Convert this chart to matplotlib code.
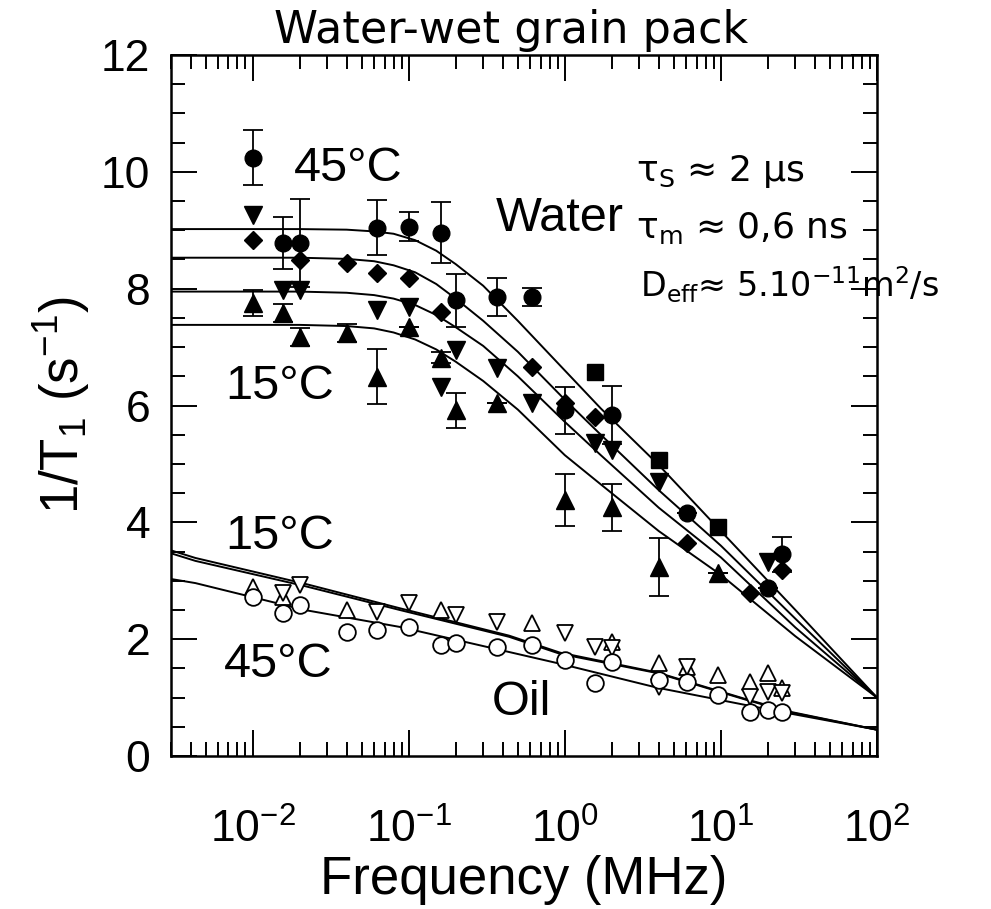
import matplotlib
matplotlib.use('Agg')
import matplotlib.pyplot as plt
import numpy as np

plt.rcParams['font.family'] = ['Liberation Sans', 'DejaVu Sans']
plt.rcParams['mathtext.default'] = 'regular'
plt.rcParams['axes.unicode_minus'] = False

# --- water, filled symbols (frequency in MHz, 1/T1 in s^-1) ---
w45_f = [0.01, 0.0156, 0.02, 0.0625, 0.1, 0.16, 0.2, 0.37, 0.62, 1.0, 2.0, 6.1, 20, 24.5]
w45_v = [10.24, 8.78, 8.78, 9.04, 9.06, 8.96, 7.8, 7.86, 7.86, 5.92, 5.84, 4.16, 2.88, 3.45]
w45_e = [0.47, 0.45, 0.75, 0.47, 0.25, 0.52, 0.45, 0.33, 0.15, 0.4, 0.5, 0.0, 0.0, 0.3]

sq_f = [1.56, 4.0, 9.6]
sq_v = [6.58, 5.07, 3.92]

w35_f = [0.01, 0.02, 0.04, 0.0625, 0.1, 0.16, 0.62, 1.0, 1.56, 6.1, 15.3, 24.5]
w35_v = [8.84, 8.49, 8.44, 8.27, 8.19, 7.6, 6.66, 6.04, 5.8, 3.65, 2.79, 3.18]

w25_f = [0.01, 0.0156, 0.02, 0.0625, 0.1, 0.16, 0.2, 0.37, 0.62, 1.56, 2.0, 4.0, 20]
w25_v = [9.26, 7.98, 7.98, 7.64, 7.69, 6.32, 6.95, 6.64, 6.04, 5.36, 5.24, 4.69, 3.32]

w15_f = [0.01, 0.0156, 0.02, 0.04, 0.0625, 0.1, 0.16, 0.2, 0.37, 1.0, 2.0, 4.0, 9.6]
w15_v = [7.76, 7.58, 7.17, 7.24, 6.49, 7.35, 6.82, 5.92, 6.04, 4.38, 4.26, 3.24, 3.13]
w15_e = [0.22, 0.15, 0.15, 0.15, 0.47, 0.0, 0.1, 0.3, 0.0, 0.45, 0.4, 0.5, 0.0]

# fitted curves for water
fit_f = [0.003, 0.02, 0.04, 0.06, 0.08, 0.11, 0.15, 0.2, 0.3, 0.5, 1.0, 1.7, 4.0, 10, 30, 100]
fit45 = [9.02, 9.02, 9.01, 8.98, 8.94, 8.83, 8.65, 8.42, 8.05, 7.45, 6.6, 5.95, 4.98, 3.85, 2.5, 1.0]
fit35 = [8.53, 8.53, 8.51, 8.47, 8.4, 8.28, 8.08, 7.83, 7.45, 6.92, 6.1, 5.5, 4.55, 3.6, 2.35, 1.0]
fit25 = [7.95, 7.95, 7.93, 7.89, 7.83, 7.72, 7.55, 7.34, 7.02, 6.5, 5.72, 5.15, 4.25, 3.4, 2.2, 1.0]
fit15 = [7.38, 7.38, 7.36, 7.32, 7.25, 7.13, 6.96, 6.75, 6.42, 5.93, 5.15, 4.65, 3.85, 3.1, 2.05, 1.0]

# --- oil, open symbols ---
o45_f = [0.01, 0.0156, 0.02, 0.04, 0.0625, 0.1, 0.16, 0.2, 0.37, 0.62, 1.0, 1.56, 2.0, 4.0, 6.1, 9.6, 15.3, 20, 24.5]
o45_v = [2.72, 2.45, 2.59, 2.12, 2.16, 2.21, 1.9, 1.93, 1.87, 1.9, 1.64, 1.25, 1.61, 1.3, 1.27, 1.04, 0.75, 0.79, 0.75]

o15u_f = [0.01, 0.0156, 0.04, 0.16, 0.62, 2.0, 4.0, 6.1, 9.6, 15.3, 20, 24.5]
o15u_v = [2.89, 2.72, 2.5, 2.5, 2.28, 1.95, 1.59, 1.52, 1.39, 1.27, 1.42, 1.16]

o15d_f = [0.0156, 0.02, 0.0625, 0.1, 0.2, 0.37, 1.0, 1.56, 2.0, 4.0, 6.1, 15.3, 20, 24.5]
o15d_v = [2.79, 2.93, 2.47, 2.62, 2.41, 2.29, 2.1, 1.87, 1.85, 1.18, 1.52, 1.01, 1.1, 1.08]

ofit_f = [0.003, 0.0043, 0.0215, 0.0875, 0.44, 0.93, 3.9, 14.6, 28.6, 100]
ofit15a = [3.52, 3.39, 2.95, 2.53, 2.06, 1.77, 1.43, 0.97, 0.75, 0.45]
ofit15b = [3.47, 3.34, 2.91, 2.50, 2.04, 1.75, 1.42, 0.96, 0.74, 0.45]
ofit45 = [3.03, 2.96, 2.5, 2.21, 1.78, 1.58, 1.17, 0.87, 0.72, 0.45]

fig = plt.figure(figsize=(9.91, 9.09), dpi=100)
ax = fig.add_axes([171/991, 1 - 756/909, 706/991, 701/909])

for v in (fit45, fit35, fit25, fit15):
    ax.plot(fit_f, v, color='black', lw=1.4)
for v in (ofit15a, ofit15b, ofit45):
    ax.plot(ofit_f, v, color='black', lw=1.4)

eb = dict(fmt='none', ecolor='black', elinewidth=1.3, capsize=7, capthick=1.3)
ax.errorbar(w45_f, w45_v, yerr=w45_e, **eb)
ax.errorbar(w15_f, w15_v, yerr=w15_e, **eb)

ax.plot(w45_f, w45_v, 'o', color='black', ms=12)
ax.plot(sq_f, sq_v, 's', color='black', ms=11)
ax.plot(w35_f, w35_v, 'D', color='black', ms=9)
ax.plot(w25_f, w25_v, 'v', color='black', ms=13)
ax.plot(w15_f, w15_v, '^', color='black', ms=13)

op = dict(mfc='white', mec='black', mew=1.3, ls='none')
ax.plot(o15u_f, o15u_v, '^', ms=12, **op)
ax.plot(o15d_f, o15d_v, 'v', ms=12, **op)
ax.plot(o45_f, o45_v, 'o', ms=12, **op)

ax.set_xscale('log')
ax.set_xlim(0.003, 100)
ax.set_ylim(0, 12)
ax.set_yticks(np.arange(0, 13, 2))
ax.set_yticks(np.arange(0, 12.01, 0.5), minor=True)

for s in ax.spines.values():
    s.set_linewidth(1.8)
ax.tick_params(which='both', direction='in', top=True, right=True, width=1.4)
ax.tick_params(which='major', length=19, labelsize=32)
ax.tick_params(which='minor', length=10)
ax.tick_params(axis='x', which='major', pad=38)
ax.tick_params(axis='y', which='major', pad=15)

ax.set_xlabel('Frequency (MHz)', fontsize=38, labelpad=2)
ax.set_ylabel('1/T$_1$ (s$^{-1}$)', fontsize=38, labelpad=6)

lab = dict(fontsize=35, ha='center', va='center')
ax.text(0.041, 10.05, '45°C', **lab)
ax.text(0.93, 9.2, 'Water', **lab)
ax.text(0.0149, 6.32, '15°C', **lab)
ax.text(0.0149, 3.75, '15°C', **lab)
ax.text(0.0145, 1.56, '45°C', **lab)
ax.text(0.53, 0.91, 'Oil', **lab)

fig.text(511/991, 1 - 30/909, 'Water-wet grain pack', family='DejaVu Sans',
         fontsize=32, ha='center', va='center')
ann = dict(family='DejaVu Sans', fontsize=26, ha='left', va='center')
fig.text(636/991, 1 - 172/909, 'τ$_S$ ≈ 2 μs', **ann)
fig.text(636/991, 1 - 228/909, 'τ$_m$ ≈ 0,6 ns', **ann)
fig.text(640/991, 1 - 285/909, 'D$_{eff}$≈ 5.10$^{-11}$m$^2$/s',
         family='DejaVu Sans', fontsize=24, ha='left', va='center')

fig.savefig('out.png', dpi=100)
